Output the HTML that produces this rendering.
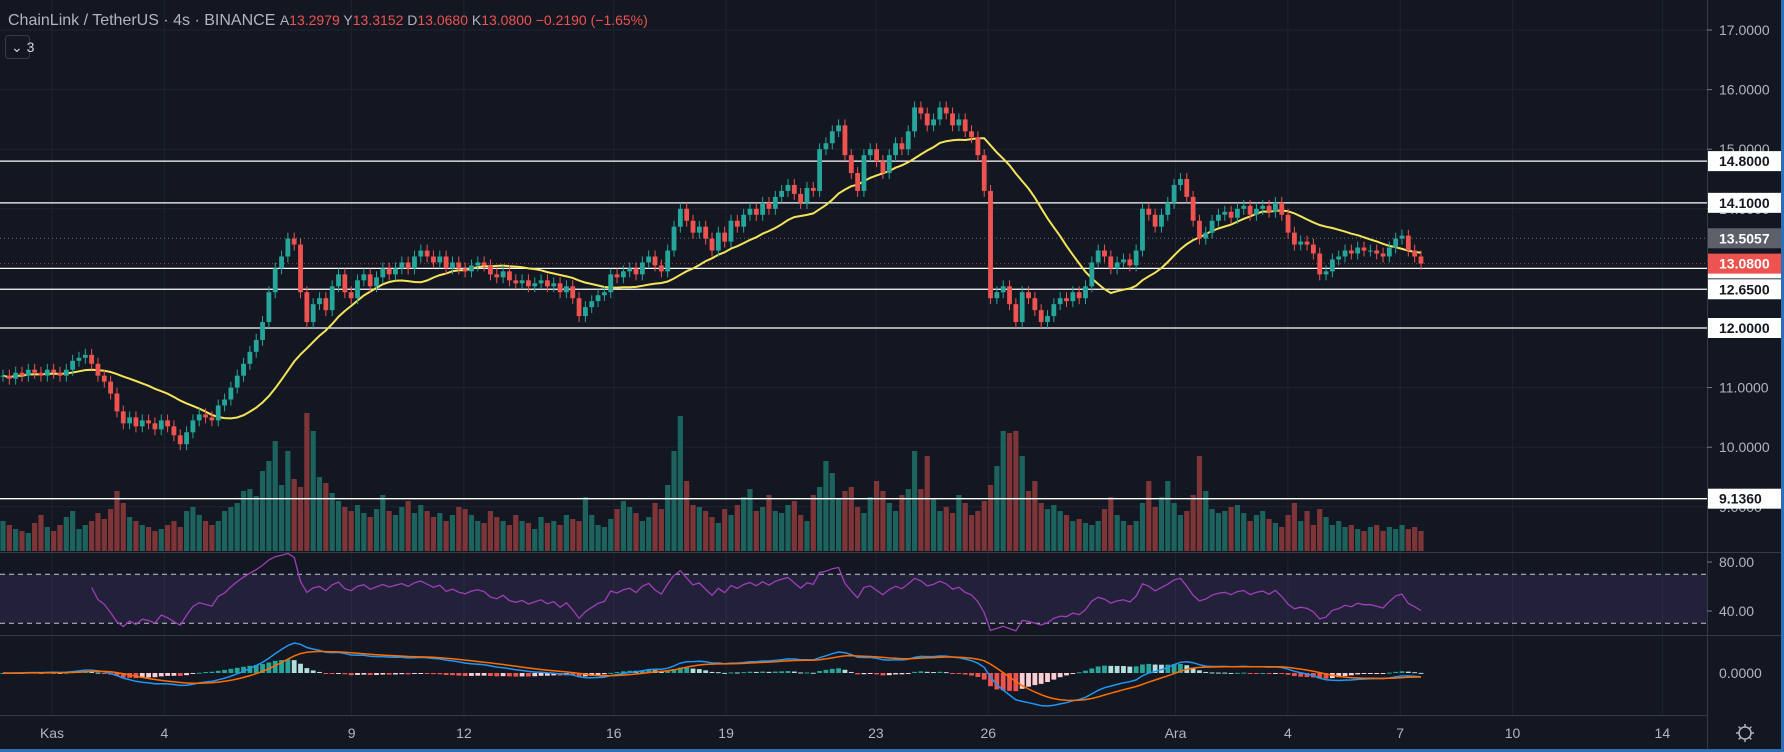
<!DOCTYPE html>
<html><head><meta charset="utf-8">
<style>
html,body{margin:0;padding:0;background:#131722;}
body{width:1784px;height:752px;overflow:hidden;position:relative;font-family:"Liberation Sans",sans-serif;}
svg{position:absolute;left:0;top:0;}
</style></head>
<body>
<svg id="chart" width="1784" height="752"></svg>
<script>
const closes=[11.2,11.15,11.25,11.2,11.3,11.25,11.2,11.3,11.25,11.2,11.3,11.45,11.5,
11.55,11.4,11.2,11.1,10.9,10.6,10.4,10.5,
10.35,10.45,10.4,10.3,10.45,10.35,10.2,10.05,10.25,
10.45,10.55,10.5,10.45,10.7,10.8,11.0,
11.2,11.4,11.6,11.8,12.1,12.6,
13.0,13.2,13.5,13.4,12.6,
12.1,12.4,12.5,12.3,12.7,12.9,12.6,
12.5,12.8,12.9,12.7,12.85,13.0,12.9,
13.0,13.1,13.0,13.2,13.3,13.2,
13.1,13.2,13.0,13.1,13.0,12.95,13.05,13.1,
13.05,12.9,12.85,12.95,12.8,12.75,12.8,12.7,12.75,
12.8,12.7,12.75,12.6,12.7,12.5,12.2,12.35,12.45,12.55,12.6,12.9,
12.85,12.95,13.0,12.9,13.1,13.2,13.05,12.95,13.3,13.7,14.0,13.8,
13.6,13.7,13.5,13.3,13.6,13.45,13.8,13.7,13.9,14.0,
13.9,14.1,14.0,14.2,14.3,14.4,14.25,14.1,14.35,14.3,15.0,
15.1,15.3,15.4,14.9,14.6,14.3,14.9,15.0,14.8,14.6,14.9,15.1,15.0,
15.3,15.7,15.6,15.4,15.5,15.7,15.6,15.4,15.5,15.3,15.2,14.9,
14.3,12.5,12.6,12.7,12.4,12.1,12.6,12.5,12.3,12.1,12.2,12.4,12.5,
12.45,12.6,12.5,12.7,13.1,13.3,13.2,13.0,13.1,13.15,13.05,13.3,14.0,
13.9,13.7,13.9,14.1,14.4,14.5,14.2,13.8,
13.5,13.6,13.8,13.9,13.95,13.85,14.0,14.05,13.9,14.0,14.05,13.95,14.1,13.9,13.6,13.4,13.45,
13.4,13.25,12.9,12.95,13.15,13.2,13.3,13.25,13.35,13.3,13.3,13.25,13.2,13.35,13.5,13.55,13.3,13.2,13.08];
const volumes=[30,26,22,20,18,28,36,24,20,26,34,40,22,
26,30,38,32,42,60,48,34,
30,26,24,20,22,26,30,24,40,
44,36,30,26,30,40,44,
48,60,62,55,80,90,
110,66,100,72,64,
138,120,74,68,58,50,44,
40,46,38,34,42,56,40,
36,44,50,38,46,40,
34,38,30,36,44,42,36,30,28,
40,34,30,26,36,30,28,22,34,
28,30,26,36,32,30,54,36,26,24,32,42,
50,44,38,30,34,48,42,66,100,135,70,46,
44,40,34,28,42,36,46,54,62,40,
44,56,40,38,46,50,36,30,56,64,90,
78,52,60,64,44,38,54,70,60,48,40,56,62,
100,62,95,52,40,44,38,56,48,36,40,50,
66,85,120,118,120,95,60,70,48,42,46,40,36,
30,32,28,26,30,42,54,36,30,26,30,48,70,
44,54,70,48,36,40,56,95,
60,42,38,40,44,46,38,30,36,40,32,28,24,36,48,30,40,
26,42,34,26,30,24,26,22,20,24,26,20,24,22,26,22,24,20,14];
const dayLabels=["Kas","4","9","12","16","19","23","26","Ara","4","7","10","14"];
const dayIndex=[0,3,8,11,15,18,22,25,30,33,36,39,43];
const priceTicks=[17,16,15,14,11,10,9];
const levels=[14.8,14.1,13,12.65,12,9.136];
const rsiTicks=[80,40];

const NS="http://www.w3.org/2000/svg";
const svg=document.getElementById('chart');
function mk(tag,attrs,parent){const e=document.createElementNS(NS,tag);for(const k in attrs)e.setAttribute(k,attrs[k]);(parent||svg).appendChild(e);return e;}
const PW=1707;
const yP=p=>328-(p-12)*59.6;
const n=closes.length;
const xFirst=3,xLast=1421;
const pitch=(xLast-xFirst)/(n-1);
const xC=i=>xFirst+i*pitch;
const day0X=52,dayW=37.45;
const xDay=d=>day0X+d*dayW;
const volBase=551,volMax=Math.max(...volumes);
const yV=v=>volBase-v/volMax*138;
const yR=v=>562-(v-80)*1.225;
const macdZero=673;

const grid=mk('g',{});


dayIndex.forEach(d=>{mk('line',{x1:xDay(d),x2:xDay(d),y1:0,y2:717,stroke:'#1f2330','stroke-width':1},grid);});
[17,16,15,14,13,12,11,10,9].forEach(p=>{mk('line',{x1:0,x2:PW,y1:yP(p),y2:yP(p),stroke:'#1f2330','stroke-width':1},grid);});

mk('line',{x1:0,x2:1784,y1:552.5,y2:552.5,stroke:'#363a45'});
mk('line',{x1:0,x2:1784,y1:635.5,y2:635.5,stroke:'#363a45'});
mk('line',{x1:0,x2:PW,y1:715.5,y2:715.5,stroke:'#363a45'});
mk('line',{x1:PW+0.5,x2:PW+0.5,y1:0,y2:752,stroke:'#363a45'});

const vg=mk('g',{});


for(let i=0;i<n;i++){
  const o=i?closes[i-1]:closes[0];const up=closes[i]>=o;
  const r=mk('rect',{x:xC(i)-2.6,y:yV(volumes[i]),width:5.2,height:volBase-yV(volumes[i]),fill:up?'#1c625d':'#7e3538'},vg);
  
  
}

const lg=mk('g',{});


levels.forEach(p=>{mk('line',{x1:0,x2:PW,y1:yP(p),y2:yP(p),stroke:'#ffffff','stroke-width':1.3},lg);});
mk('line',{x1:0,x2:PW,y1:yP(13.5057),y2:yP(13.5057),stroke:'#6a6d78','stroke-dasharray':'1 3'});
mk('line',{x1:0,x2:PW,y1:yP(13.08),y2:yP(13.08),stroke:'#ef5350','stroke-dasharray':'1 3','stroke-opacity':0.7});

const ma=[];
for(let i=0;i<n;i++){const s=Math.max(0,i-19);let t=0;for(let j=s;j<=i;j++)t+=closes[j];ma.push(t/(i-s+1));}
let d='';ma.forEach((v,i)=>{d+=(i?'L':'M')+xC(i).toFixed(1)+' '+yP(v).toFixed(1);});
const maP=mk('path',{d:d,fill:'none',stroke:'#f5e35a','stroke-width':2});



const cg=mk('g',{});


for(let i=0;i<n;i++){
  const o=i?closes[i-1]:closes[0];const c=closes[i];const up=c>=o;
  const col=up?'#26a69a':'#ef5350';
  const hi=Math.max(o,c)+0.1,lo=Math.min(o,c)-0.1;
  mk('line',{x1:xC(i),x2:xC(i),y1:yP(hi),y2:yP(lo),stroke:col,'stroke-width':1},cg);
  const top=yP(Math.max(o,c)),h=Math.max(1,yP(Math.min(o,c))-top);
  const r=mk('rect',{x:xC(i)-2.4,y:top,width:4.8,height:h,fill:col},cg);
  
  
}

mk('rect',{x:0,y:yR(70),width:PW,height:yR(30)-yR(70),fill:'#7e57c2','fill-opacity':0.15});
mk('line',{x1:0,x2:PW,y1:yR(70),y2:yR(70),stroke:'#c8c8d0','stroke-dasharray':'5 4'});
mk('line',{x1:0,x2:PW,y1:yR(30),y2:yR(30),stroke:'#c8c8d0','stroke-dasharray':'5 4'});
const rsi=[];let ag=0,al=0;
for(let i=1;i<n;i++){const ch=closes[i]-closes[i-1];const g=Math.max(ch,0),l=Math.max(-ch,0);
  if(i<=14){ag+=g/14;al+=l/14;}else{ag=(ag*13+g)/14;al=(al*13+l)/14;}
  if(i>=14)rsi.push([i,al===0?100:100-100/(1+ag/al)]);}
d='';rsi.forEach((p,k)=>{d+=(k?'L':'M')+xC(p[0]).toFixed(1)+' '+yR(p[1]).toFixed(1);});
const rp=mk('path',{d:d,fill:'none',stroke:'#9c3fb8','stroke-width':1.3});



function ema(arr,p){const k=2/(p+1);const out=[];arr.forEach((v,i)=>out.push(i?v*k+out[i-1]*(1-k):v));return out;}
const e12=ema(closes,12),e26=ema(closes,26);
const macd=e12.map((v,i)=>v-e26[i]);const sig=ema(macd,9);
const mx=Math.max(...macd.map(Math.abs));
const ym=v=>macdZero-v/mx*33;
const hg=mk('g',{});


for(let i=0;i<n;i++){const h=macd[i]-sig[i];const ph=i?macd[i-1]-sig[i-1]:h;
  let col=h>=0?(h>=ph?'#26a69a':'#b2dfdb'):(h<=ph?'#ef5350':'#ffcdd2');
  const y1=ym(h);mk('rect',{x:xC(i)-2.4,y:Math.min(y1,macdZero),width:4.8,height:Math.max(1,Math.abs(y1-macdZero)),fill:col},hg);}
d='';macd.forEach((v,i)=>{d+=(i?'L':'M')+xC(i).toFixed(1)+' '+ym(v).toFixed(1);});
const ml=mk('path',{d:d,fill:'none',stroke:'#2196f3','stroke-width':1.5});


d='';sig.forEach((v,i)=>{d+=(i?'L':'M')+xC(i).toFixed(1)+' '+ym(v).toFixed(1);});
const sl=mk('path',{d:d,fill:'none',stroke:'#ff6d00','stroke-width':1.5});



const ax=mk('g',{'font-family':'Liberation Sans, sans-serif','font-size':'14'});


priceTicks.forEach(p=>{mk('line',{x1:PW,x2:PW+5,y1:yP(p),y2:yP(p),stroke:'#787b86'},ax);
  const t=mk('text',{x:PW+12,y:yP(p)+5,fill:'#b2b5be'},ax);t.textContent=p.toFixed(4);});
function tag(p,txt,bg,fg){const y=yP(p);mk('rect',{x:PW+1,y:y-10,width:74,height:20,fill:bg},ax);
  const t=mk('text',{x:PW+12,y:y+5,fill:fg,'font-weight':'bold'},ax);t.textContent=txt;}
levels.forEach(p=>tag(p,p===9.136?'9.1360':p.toFixed(4),'#ffffff','#131722'));
tag(13.5057,'13.5057','#5d606b','#ffffff');
tag(13.08,'13.0800','#ef5350','#ffffff');
rsiTicks.forEach(v=>{const t=mk('text',{x:PW+12,y:yR(v)+5,fill:'#b2b5be'},ax);t.textContent=v.toFixed(2);
  mk('line',{x1:PW,x2:PW+5,y1:yR(v),y2:yR(v),stroke:'#787b86'},ax);});
{const t=mk('text',{x:PW+12,y:macdZero+5,fill:'#b2b5be'},ax);t.textContent='0.0000';}

const tx=mk('g',{'font-family':'Liberation Sans, sans-serif','font-size':'14',fill:'#b2b5be','text-anchor':'middle'});


dayLabels.forEach((l,k)=>{const t=mk('text',{x:xDay(dayIndex[k]),y:738},tx);t.textContent=l;});

const gear=mk('g',{});


mk('circle',{cx:1745,cy:733,r:6,fill:'none',stroke:'#b2b5be','stroke-width':1.5},gear);
for(let a=0;a<8;a++){const an=a*Math.PI/4;mk('line',{x1:1745+Math.cos(an)*6,y1:733+Math.sin(an)*6,x2:1745+Math.cos(an)*9,y2:733+Math.sin(an)*9,stroke:'#b2b5be','stroke-width':1.5},gear);}

mk('line',{x1:0,x2:1784,y1:750.5,y2:750.5,stroke:'#2d6fb8','stroke-width':3});
mk('line',{x1:1782.5,x2:1782.5,y1:0,y2:752,stroke:'#2d6fb8','stroke-width':3});

const hd=mk('text',{x:8,y:25,'font-family':'Liberation Sans, sans-serif','font-size':'16',fill:'#b2b5be'});


hd.innerHTML='ChainLink / TetherUS · 4s · BINANCE <tspan font-size="14">A</tspan><tspan font-size="14" fill="#ef5350">13.2979 </tspan><tspan font-size="14">Y</tspan><tspan font-size="14" fill="#ef5350">13.3152 </tspan><tspan font-size="14">D</tspan><tspan font-size="14" fill="#ef5350">13.0680 </tspan><tspan font-size="14">K</tspan><tspan font-size="14" fill="#ef5350">13.0800 −0.2190 (−1.65%)</tspan>';
const tg=mk('g',{});


mk('rect',{x:5.5,y:35.5,width:24,height:23,rx:3,fill:'#131722',stroke:'#363a45'},tg);
const tt=mk('text',{x:11,y:52,'font-family':'Liberation Sans, sans-serif','font-size':'14',fill:'#d1d4dc'},tg);tt.textContent='⌄ 3';
</script>
</body></html>
